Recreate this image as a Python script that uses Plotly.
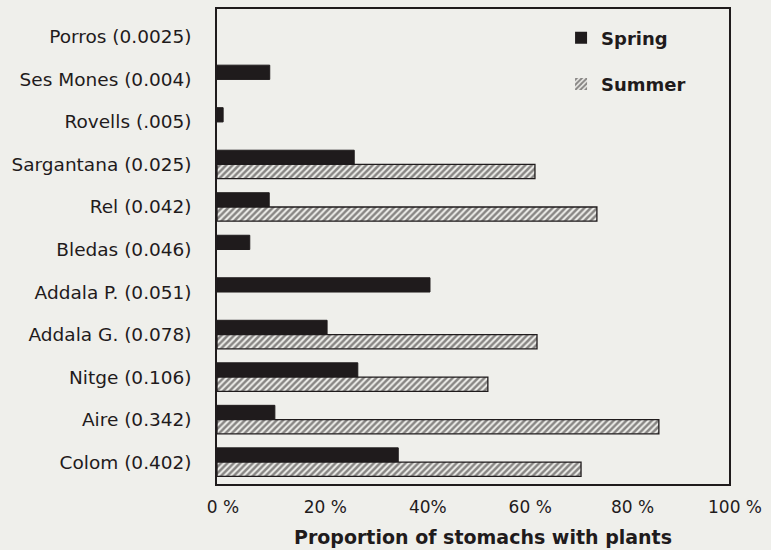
import plotly.graph_objects as go

sites = ["Porros (0.0025)", "Ses Mones (0.004)", "Rovells (.005)", "Sargantana (0.025)",
         "Rel (0.042)", "Bledas (0.046)", "Addala P. (0.051)", "Addala G. (0.078)",
         "Nitge (0.106)", "Aire (0.342)", "Colom (0.402)"]
spring = [0, 10.3, 1.2, 26.8, 10.2, 6.4, 41.6, 21.5, 27.5, 11.3, 35.4]
summer = [0, 0, 0, 62.1, 74.2, 0, 0, 62.5, 52.9, 86.3, 71.1]
tick_vals = [0, 20, 40, 60, 80, 100]
tick_text = ["0 %", "20 %", "40%", "60 %", "80 %", "100 %"]
x_title = "Proportion of stomachs with plants"

BG = "#efefeb"
INK = "#1f1b1c"

fig = go.Figure()
fig.add_trace(go.Bar(
    y=sites, x=spring, orientation="h", name="Spring", legendgroup="a",
    marker=dict(color=INK, line=dict(color=INK, width=[0 if v == 0 else 1 for v in spring])),
))
fig.add_trace(go.Bar(
    y=sites, x=summer, orientation="h", name="Summer", legendgroup="b",
    marker=dict(color=BG, line=dict(color=INK, width=[0 if v == 0 else 1.3 for v in summer]),
                pattern=dict(shape="/", fgcolor=INK, bgcolor=BG, size=4.5, solidity=0.55)),
))

fig.update_layout(
    width=771, height=550,
    margin=dict(l=217, r=42, t=7, b=66),
    paper_bgcolor=BG, plot_bgcolor=BG,
    barmode="group", bargap=0.33, bargroupgap=0,
    font=dict(family="DejaVu Sans", size=18, color=INK),
    showlegend=True,
    legend=dict(x=0.672, y=0.978, xanchor="left", yanchor="top",
                traceorder="grouped", tracegroupgap=20,
                bgcolor="rgba(0,0,0,0)",
                font=dict(family="DejaVu Sans", size=18, color=INK, weight="bold")),
    annotations=[dict(text="<b>" + x_title + "</b>", xref="paper", yref="paper",
                      x=0.52, y=-0.111, xanchor="center", yanchor="middle",
                      showarrow=False, font=dict(size=19, color=INK))],
)
fig.update_xaxes(
    range=[0, 100], tickvals=tick_vals, ticktext=tick_text,
    showgrid=False, zeroline=False,
    showline=True, mirror=True, linecolor=INK, linewidth=1.5,
    ticks="outside", ticklen=7, tickcolor="rgba(0,0,0,0)",
    ticklabelshift=6,
    tickfont=dict(size=17),
)
fig.update_yaxes(
    type="category", categoryorder="array", categoryarray=sites,
    range=[10.515, -0.656], autorange=False,
    showgrid=False, zeroline=False,
    showline=True, mirror=True, linecolor=INK, linewidth=1.5,
    ticks="outside", ticklen=20, tickcolor="rgba(0,0,0,0)",
    tickfont=dict(size=18.5),
)

fig.write_html("out.html", config={"displayModeBar": False},
               post_script="document.body.style.margin='0';")
